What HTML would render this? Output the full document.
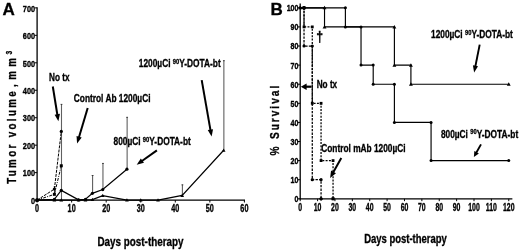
<!DOCTYPE html>
<html><head><meta charset="utf-8"><title>Figure</title>
<style>
html,body{margin:0;padding:0;background:#fff;}
svg{display:block;font-family:"Liberation Sans", "DejaVu Sans", sans-serif;font-weight:bold;fill:#000;}
text{stroke:#000;stroke-width:0.32px;}
text.tk{stroke-width:0.35px;}
</style></head><body>
<svg width="520" height="252" viewBox="0 0 520 252">
<rect width="520" height="252" fill="#fff"/>
<text transform="translate(2.40,14.60) scale(1,1)" font-size="17" text-anchor="start">A</text>
<line x1="37.10" y1="7.28" x2="37.10" y2="200.70" stroke="#000" stroke-width="1.3" stroke-linecap="butt"/>
<line x1="36.50" y1="200.10" x2="245.00" y2="200.10" stroke="#000" stroke-width="1.3" stroke-linecap="butt"/>
<line x1="34.50" y1="200.10" x2="37.10" y2="200.10" stroke="#000" stroke-width="1.0" stroke-linecap="butt"/>
<text transform="translate(35.10,203.80) scale(0.75,1)" font-size="9.8" text-anchor="end" class="tk">0</text>
<line x1="34.50" y1="172.64" x2="37.10" y2="172.64" stroke="#000" stroke-width="1.0" stroke-linecap="butt"/>
<text transform="translate(35.10,176.34) scale(0.75,1)" font-size="9.8" text-anchor="end" class="tk">100</text>
<line x1="34.50" y1="145.18" x2="37.10" y2="145.18" stroke="#000" stroke-width="1.0" stroke-linecap="butt"/>
<text transform="translate(35.10,148.88) scale(0.75,1)" font-size="9.8" text-anchor="end" class="tk">200</text>
<line x1="34.50" y1="117.72" x2="37.10" y2="117.72" stroke="#000" stroke-width="1.0" stroke-linecap="butt"/>
<text transform="translate(35.10,121.42) scale(0.75,1)" font-size="9.8" text-anchor="end" class="tk">300</text>
<line x1="34.50" y1="90.26" x2="37.10" y2="90.26" stroke="#000" stroke-width="1.0" stroke-linecap="butt"/>
<text transform="translate(35.10,93.96) scale(0.75,1)" font-size="9.8" text-anchor="end" class="tk">400</text>
<line x1="34.50" y1="62.80" x2="37.10" y2="62.80" stroke="#000" stroke-width="1.0" stroke-linecap="butt"/>
<text transform="translate(35.10,66.50) scale(0.75,1)" font-size="9.8" text-anchor="end" class="tk">500</text>
<line x1="34.50" y1="35.34" x2="37.10" y2="35.34" stroke="#000" stroke-width="1.0" stroke-linecap="butt"/>
<text transform="translate(35.10,39.04) scale(0.75,1)" font-size="9.8" text-anchor="end" class="tk">600</text>
<line x1="34.50" y1="7.88" x2="37.10" y2="7.88" stroke="#000" stroke-width="1.0" stroke-linecap="butt"/>
<text transform="translate(35.10,11.58) scale(0.75,1)" font-size="9.8" text-anchor="end" class="tk">700</text>
<line x1="37.10" y1="200.10" x2="37.10" y2="202.50" stroke="#000" stroke-width="1.0" stroke-linecap="butt"/>
<text transform="translate(37.10,212.00) scale(0.69,1)" font-size="10.5" text-anchor="middle" class="tk">0</text>
<line x1="71.65" y1="200.10" x2="71.65" y2="202.50" stroke="#000" stroke-width="1.0" stroke-linecap="butt"/>
<text transform="translate(71.65,212.00) scale(0.69,1)" font-size="10.5" text-anchor="middle" class="tk">10</text>
<line x1="106.20" y1="200.10" x2="106.20" y2="202.50" stroke="#000" stroke-width="1.0" stroke-linecap="butt"/>
<text transform="translate(106.20,212.00) scale(0.69,1)" font-size="10.5" text-anchor="middle" class="tk">20</text>
<line x1="140.75" y1="200.10" x2="140.75" y2="202.50" stroke="#000" stroke-width="1.0" stroke-linecap="butt"/>
<text transform="translate(140.75,212.00) scale(0.69,1)" font-size="10.5" text-anchor="middle" class="tk">30</text>
<line x1="175.30" y1="200.10" x2="175.30" y2="202.50" stroke="#000" stroke-width="1.0" stroke-linecap="butt"/>
<text transform="translate(175.30,212.00) scale(0.69,1)" font-size="10.5" text-anchor="middle" class="tk">40</text>
<line x1="209.85" y1="200.10" x2="209.85" y2="202.50" stroke="#000" stroke-width="1.0" stroke-linecap="butt"/>
<text transform="translate(209.85,212.00) scale(0.69,1)" font-size="10.5" text-anchor="middle" class="tk">50</text>
<line x1="244.40" y1="200.10" x2="244.40" y2="202.50" stroke="#000" stroke-width="1.0" stroke-linecap="butt"/>
<text transform="translate(244.40,212.00) scale(0.69,1)" font-size="10.5" text-anchor="middle" class="tk">60</text>
<text transform="translate(140.50,246.30) scale(0.79,1)" font-size="12.5" text-anchor="middle">Days post-therapy</text>
<text transform="translate(16.30,183.80) rotate(-90) scale(0.78,1)" font-size="12.5" text-anchor="start" letter-spacing="3.05">Tumor volume<tspan dx="2.4">,</tspan> <tspan dx="-3.63">m</tspan><tspan dx="2.6">m</tspan><tspan dx="1.3" dy="-4.2" font-size="8.5">3</tspan></text>
<line x1="61.49" y1="200.10" x2="61.49" y2="103.99" stroke="#606060" stroke-width="1.1" stroke-linecap="butt"/>
<line x1="60.59" y1="104.39" x2="62.39" y2="104.39" stroke="#333" stroke-width="0.9" stroke-linecap="butt"/>
<line x1="54.58" y1="194.61" x2="54.58" y2="186.37" stroke="#606060" stroke-width="1.1" stroke-linecap="butt"/>
<line x1="53.68" y1="186.77" x2="55.48" y2="186.77" stroke="#333" stroke-width="0.9" stroke-linecap="butt"/>
<line x1="92.58" y1="193.78" x2="92.58" y2="175.11" stroke="#606060" stroke-width="1.1" stroke-linecap="butt"/>
<line x1="91.68" y1="175.51" x2="93.48" y2="175.51" stroke="#333" stroke-width="0.9" stroke-linecap="butt"/>
<line x1="102.95" y1="189.12" x2="102.95" y2="163.03" stroke="#606060" stroke-width="1.1" stroke-linecap="butt"/>
<line x1="102.05" y1="163.43" x2="103.85" y2="163.43" stroke="#333" stroke-width="0.9" stroke-linecap="butt"/>
<line x1="127.13" y1="169.34" x2="127.13" y2="116.90" stroke="#606060" stroke-width="1.1" stroke-linecap="butt"/>
<line x1="126.23" y1="117.30" x2="128.03" y2="117.30" stroke="#333" stroke-width="0.9" stroke-linecap="butt"/>
<line x1="182.41" y1="195.43" x2="182.41" y2="184.45" stroke="#606060" stroke-width="1.1" stroke-linecap="butt"/>
<line x1="181.51" y1="184.85" x2="183.31" y2="184.85" stroke="#333" stroke-width="0.9" stroke-linecap="butt"/>
<line x1="223.87" y1="150.40" x2="223.87" y2="60.33" stroke="#606060" stroke-width="1.1" stroke-linecap="butt"/>
<line x1="222.97" y1="60.73" x2="224.77" y2="60.73" stroke="#333" stroke-width="0.9" stroke-linecap="butt"/>
<polyline points="37.10,200.10 54.38,189.12 61.29,131.45" fill="none" stroke="#000" stroke-width="1.0" stroke-dasharray="3,1.1" stroke-linejoin="miter"/>
<polyline points="37.10,200.10 54.38,194.33 61.29,165.77" fill="none" stroke="#000" stroke-width="1.0" stroke-dasharray="3,1.2,1,1.2" stroke-linejoin="miter"/>
<polyline points="37.10,200.10 54.38,199.28 61.29,190.35 78.56,199.83 85.47,199.28 92.38,193.37 102.75,189.53 126.93,169.21" fill="none" stroke="#000" stroke-width="1.2" stroke-linejoin="miter"/>
<polyline points="37.10,200.10 54.38,200.10 61.29,200.10 78.56,200.10 85.47,200.10 92.38,199.55 102.75,195.57 126.93,200.10 140.75,200.10 158.03,200.10 182.21,195.43 223.67,150.26" fill="none" stroke="#000" stroke-width="1.2" stroke-linejoin="miter"/>
<circle cx="37.10" cy="200.10" r="1.6" fill="#000"/>
<circle cx="54.38" cy="189.12" r="1.6" fill="#000"/>
<circle cx="61.29" cy="131.45" r="1.6" fill="#000"/>
<rect x="35.60" y="198.60" width="3.0" height="3.0" fill="#000"/>
<rect x="52.88" y="192.83" width="3.0" height="3.0" fill="#000"/>
<rect x="59.79" y="164.27" width="3.0" height="3.0" fill="#000"/>
<circle cx="37.10" cy="200.10" r="1.6" fill="#000"/>
<circle cx="54.38" cy="199.28" r="1.6" fill="#000"/>
<circle cx="61.29" cy="190.35" r="1.6" fill="#000"/>
<circle cx="78.56" cy="199.83" r="1.6" fill="#000"/>
<circle cx="85.47" cy="199.28" r="1.6" fill="#000"/>
<circle cx="92.38" cy="193.37" r="1.6" fill="#000"/>
<circle cx="102.75" cy="189.53" r="1.6" fill="#000"/>
<circle cx="126.93" cy="169.21" r="1.6" fill="#000"/>
<polygon points="37.10,198.25 35.25,201.58 38.95,201.58" fill="#000"/>
<polygon points="54.38,198.25 52.52,201.58 56.23,201.58" fill="#000"/>
<polygon points="61.29,198.25 59.44,201.58 63.14,201.58" fill="#000"/>
<polygon points="78.56,198.25 76.71,201.58 80.41,201.58" fill="#000"/>
<polygon points="85.47,198.25 83.62,201.58 87.32,201.58" fill="#000"/>
<polygon points="92.38,197.70 90.53,201.03 94.23,201.03" fill="#000"/>
<polygon points="102.75,193.72 100.90,197.05 104.59,197.05" fill="#000"/>
<polygon points="126.93,198.25 125.08,201.58 128.78,201.58" fill="#000"/>
<polygon points="140.75,198.25 138.90,201.58 142.60,201.58" fill="#000"/>
<polygon points="158.03,198.25 156.18,201.58 159.88,201.58" fill="#000"/>
<polygon points="182.21,193.58 180.36,196.91 184.06,196.91" fill="#000"/>
<polygon points="223.67,148.41 221.82,151.74 225.52,151.74" fill="#000"/>
<text transform="translate(49.00,81.10) scale(0.78,1)" font-size="10.5" text-anchor="start">No tx</text>
<text transform="translate(73.80,102.40) scale(0.78,1)" font-size="10.7" text-anchor="start">Control Ab 1200µCi</text>
<text transform="translate(113.50,145.00) scale(0.78,1)" font-size="10.7" text-anchor="start">800µCi <tspan dy="-3.4" font-size="7.4">90</tspan><tspan dy="3.4">Y-DOTA-bt</tspan></text>
<text transform="translate(138.80,66.90) scale(0.78,1)" font-size="10.7" text-anchor="start">1200µCi <tspan dy="-3.4" font-size="7.4">90</tspan><tspan dy="3.4">Y-DOTA-bt</tspan></text>
<line x1="52.80" y1="86.50" x2="57.44" y2="115.28" stroke="#000" stroke-width="2.0" stroke-linecap="butt"/>
<polygon points="58.40,121.20 54.62,114.72 59.95,113.86" fill="#000"/>
<line x1="87.70" y1="108.00" x2="78.82" y2="137.75" stroke="#000" stroke-width="2.0" stroke-linecap="butt"/>
<polygon points="77.10,143.50 76.52,136.02 81.69,137.57" fill="#000"/>
<line x1="156.90" y1="150.40" x2="141.60" y2="161.23" stroke="#000" stroke-width="2.0" stroke-linecap="butt"/>
<polygon points="136.70,164.70 140.85,158.45 143.97,162.86" fill="#000"/>
<line x1="201.70" y1="80.20" x2="210.56" y2="130.59" stroke="#000" stroke-width="2.0" stroke-linecap="butt"/>
<polygon points="211.60,136.50 207.73,130.07 213.05,129.14" fill="#000"/>
<text transform="translate(270.60,14.80) scale(1,1)" font-size="17" text-anchor="start">B</text>
<line x1="300.20" y1="3.60" x2="300.20" y2="199.40" stroke="#000" stroke-width="1.3" stroke-linecap="butt"/>
<line x1="299.60" y1="198.80" x2="512.36" y2="198.80" stroke="#000" stroke-width="1.3" stroke-linecap="butt"/>
<line x1="297.60" y1="198.80" x2="300.20" y2="198.80" stroke="#000" stroke-width="1.0" stroke-linecap="butt"/>
<text transform="translate(298.50,202.20) scale(0.74,1)" font-size="9.6" text-anchor="end" class="tk">0</text>
<line x1="297.60" y1="179.70" x2="300.20" y2="179.70" stroke="#000" stroke-width="1.0" stroke-linecap="butt"/>
<text transform="translate(298.50,183.10) scale(0.74,1)" font-size="9.6" text-anchor="end" class="tk">10</text>
<line x1="297.60" y1="160.60" x2="300.20" y2="160.60" stroke="#000" stroke-width="1.0" stroke-linecap="butt"/>
<text transform="translate(298.50,164.00) scale(0.74,1)" font-size="9.6" text-anchor="end" class="tk">20</text>
<line x1="297.60" y1="141.50" x2="300.20" y2="141.50" stroke="#000" stroke-width="1.0" stroke-linecap="butt"/>
<text transform="translate(298.50,144.90) scale(0.74,1)" font-size="9.6" text-anchor="end" class="tk">30</text>
<line x1="297.60" y1="122.40" x2="300.20" y2="122.40" stroke="#000" stroke-width="1.0" stroke-linecap="butt"/>
<text transform="translate(298.50,125.80) scale(0.74,1)" font-size="9.6" text-anchor="end" class="tk">40</text>
<line x1="297.60" y1="103.30" x2="300.20" y2="103.30" stroke="#000" stroke-width="1.0" stroke-linecap="butt"/>
<text transform="translate(298.50,106.70) scale(0.74,1)" font-size="9.6" text-anchor="end" class="tk">50</text>
<line x1="297.60" y1="84.20" x2="300.20" y2="84.20" stroke="#000" stroke-width="1.0" stroke-linecap="butt"/>
<text transform="translate(298.50,87.60) scale(0.74,1)" font-size="9.6" text-anchor="end" class="tk">60</text>
<line x1="297.60" y1="65.10" x2="300.20" y2="65.10" stroke="#000" stroke-width="1.0" stroke-linecap="butt"/>
<text transform="translate(298.50,68.50) scale(0.74,1)" font-size="9.6" text-anchor="end" class="tk">70</text>
<line x1="297.60" y1="46.00" x2="300.20" y2="46.00" stroke="#000" stroke-width="1.0" stroke-linecap="butt"/>
<text transform="translate(298.50,49.40) scale(0.74,1)" font-size="9.6" text-anchor="end" class="tk">80</text>
<line x1="297.60" y1="26.90" x2="300.20" y2="26.90" stroke="#000" stroke-width="1.0" stroke-linecap="butt"/>
<text transform="translate(298.50,30.30) scale(0.74,1)" font-size="9.6" text-anchor="end" class="tk">90</text>
<line x1="297.60" y1="7.80" x2="300.20" y2="7.80" stroke="#000" stroke-width="1.0" stroke-linecap="butt"/>
<text transform="translate(298.50,11.20) scale(0.74,1)" font-size="9.6" text-anchor="end" class="tk">100</text>
<line x1="300.20" y1="198.80" x2="300.20" y2="201.20" stroke="#000" stroke-width="1.0" stroke-linecap="butt"/>
<text transform="translate(300.20,210.90) scale(0.66,1)" font-size="10.5" text-anchor="middle" class="tk">0</text>
<line x1="317.58" y1="198.80" x2="317.58" y2="201.20" stroke="#000" stroke-width="1.0" stroke-linecap="butt"/>
<text transform="translate(317.58,210.90) scale(0.66,1)" font-size="10.5" text-anchor="middle" class="tk">10</text>
<line x1="334.96" y1="198.80" x2="334.96" y2="201.20" stroke="#000" stroke-width="1.0" stroke-linecap="butt"/>
<text transform="translate(334.96,210.90) scale(0.66,1)" font-size="10.5" text-anchor="middle" class="tk">20</text>
<line x1="352.34" y1="198.80" x2="352.34" y2="201.20" stroke="#000" stroke-width="1.0" stroke-linecap="butt"/>
<text transform="translate(352.34,210.90) scale(0.66,1)" font-size="10.5" text-anchor="middle" class="tk">30</text>
<line x1="369.72" y1="198.80" x2="369.72" y2="201.20" stroke="#000" stroke-width="1.0" stroke-linecap="butt"/>
<text transform="translate(369.72,210.90) scale(0.66,1)" font-size="10.5" text-anchor="middle" class="tk">40</text>
<line x1="387.10" y1="198.80" x2="387.10" y2="201.20" stroke="#000" stroke-width="1.0" stroke-linecap="butt"/>
<text transform="translate(387.10,210.90) scale(0.66,1)" font-size="10.5" text-anchor="middle" class="tk">50</text>
<line x1="404.48" y1="198.80" x2="404.48" y2="201.20" stroke="#000" stroke-width="1.0" stroke-linecap="butt"/>
<text transform="translate(404.48,210.90) scale(0.66,1)" font-size="10.5" text-anchor="middle" class="tk">60</text>
<line x1="421.86" y1="198.80" x2="421.86" y2="201.20" stroke="#000" stroke-width="1.0" stroke-linecap="butt"/>
<text transform="translate(421.86,210.90) scale(0.66,1)" font-size="10.5" text-anchor="middle" class="tk">70</text>
<line x1="439.24" y1="198.80" x2="439.24" y2="201.20" stroke="#000" stroke-width="1.0" stroke-linecap="butt"/>
<text transform="translate(439.24,210.90) scale(0.66,1)" font-size="10.5" text-anchor="middle" class="tk">80</text>
<line x1="456.62" y1="198.80" x2="456.62" y2="201.20" stroke="#000" stroke-width="1.0" stroke-linecap="butt"/>
<text transform="translate(456.62,210.90) scale(0.66,1)" font-size="10.5" text-anchor="middle" class="tk">90</text>
<line x1="474.00" y1="198.80" x2="474.00" y2="201.20" stroke="#000" stroke-width="1.0" stroke-linecap="butt"/>
<text transform="translate(474.00,210.90) scale(0.66,1)" font-size="10.5" text-anchor="middle" class="tk">100</text>
<line x1="491.38" y1="198.80" x2="491.38" y2="201.20" stroke="#000" stroke-width="1.0" stroke-linecap="butt"/>
<text transform="translate(491.38,210.90) scale(0.66,1)" font-size="10.5" text-anchor="middle" class="tk">110</text>
<line x1="508.76" y1="198.80" x2="508.76" y2="201.20" stroke="#000" stroke-width="1.0" stroke-linecap="butt"/>
<text transform="translate(508.76,210.90) scale(0.66,1)" font-size="10.5" text-anchor="middle" class="tk">120</text>
<text transform="translate(405.50,243.10) scale(0.772,1)" font-size="12.3" text-anchor="middle">Days post-therapy</text>
<text transform="translate(278.70,155.60) rotate(-90) scale(0.78,1)" font-size="13" text-anchor="start" letter-spacing="2.55">% <tspan dx="0.9">S</tspan>urvival</text>
<polyline points="300.20,7.80 324.53,7.80 324.53,26.90 394.40,26.90 394.40,65.10 410.91,65.10 410.91,84.20 508.76,84.20" fill="none" stroke="#000" stroke-width="1.15" stroke-linejoin="miter"/>
<polygon points="300.20,5.85 298.25,9.36 302.15,9.36" fill="#000"/>
<polygon points="324.53,5.85 322.58,9.36 326.48,9.36" fill="#000"/>
<polygon points="324.53,24.95 322.58,28.46 326.48,28.46" fill="#000"/>
<polygon points="394.40,24.95 392.45,28.46 396.35,28.46" fill="#000"/>
<polygon points="394.40,63.15 392.45,66.66 396.35,66.66" fill="#000"/>
<polygon points="410.91,63.15 408.96,66.66 412.86,66.66" fill="#000"/>
<polygon points="410.91,82.25 408.96,85.76 412.86,85.76" fill="#000"/>
<polygon points="508.76,82.25 506.81,85.76 510.71,85.76" fill="#000"/>
<polyline points="300.20,7.80 345.39,7.80 345.39,26.90 361.03,26.90 361.03,65.10 373.20,65.10 373.20,84.20 394.40,84.20 394.40,122.40 431.07,122.40 431.07,160.60 508.76,160.60" fill="none" stroke="#000" stroke-width="1.15" stroke-linejoin="miter"/>
<circle cx="300.20" cy="7.80" r="1.5" fill="#000"/>
<circle cx="345.39" cy="7.80" r="1.5" fill="#000"/>
<circle cx="345.39" cy="26.90" r="1.5" fill="#000"/>
<circle cx="361.03" cy="26.90" r="1.5" fill="#000"/>
<circle cx="361.03" cy="65.10" r="1.5" fill="#000"/>
<circle cx="373.20" cy="65.10" r="1.5" fill="#000"/>
<circle cx="373.20" cy="84.20" r="1.5" fill="#000"/>
<circle cx="394.40" cy="84.20" r="1.5" fill="#000"/>
<circle cx="394.40" cy="122.40" r="1.5" fill="#000"/>
<circle cx="431.07" cy="122.40" r="1.5" fill="#000"/>
<circle cx="431.07" cy="160.60" r="1.5" fill="#000"/>
<circle cx="508.76" cy="160.60" r="1.5" fill="#000"/>
<polyline points="300.20,7.80 304.02,7.80 304.02,26.90 312.28,26.90 312.28,103.30 321.06,103.30 321.06,160.60 333.05,160.60 333.05,198.80 333.05,198.80" fill="none" stroke="#000" stroke-width="1.25" stroke-dasharray="2,1.3" stroke-linejoin="miter"/>
<polyline points="300.20,7.80 304.02,7.80 304.02,46.00 312.28,46.00 312.28,179.70 321.06,179.70 321.06,198.80 321.06,198.80" fill="none" stroke="#000" stroke-width="1.25" stroke-dasharray="2.4,1.2" stroke-linejoin="miter"/>
<rect x="302.62" y="6.40" width="2.8" height="2.8" fill="#000"/>
<rect x="302.62" y="25.50" width="2.8" height="2.8" fill="#000"/>
<rect x="310.88" y="25.50" width="2.8" height="2.8" fill="#000"/>
<rect x="310.88" y="101.90" width="2.8" height="2.8" fill="#000"/>
<rect x="319.66" y="101.90" width="2.8" height="2.8" fill="#000"/>
<rect x="319.66" y="159.20" width="2.8" height="2.8" fill="#000"/>
<rect x="331.65" y="159.20" width="2.8" height="2.8" fill="#000"/>
<rect x="331.65" y="197.40" width="2.8" height="2.8" fill="#000"/>
<rect x="331.65" y="197.40" width="2.8" height="2.8" fill="#000"/>
<circle cx="304.02" cy="7.80" r="1.6" fill="#000"/>
<circle cx="304.02" cy="46.00" r="1.6" fill="#000"/>
<circle cx="312.28" cy="46.00" r="1.6" fill="#000"/>
<circle cx="312.28" cy="179.70" r="1.6" fill="#000"/>
<circle cx="321.06" cy="179.70" r="1.6" fill="#000"/>
<circle cx="321.06" cy="198.80" r="1.6" fill="#000"/>
<circle cx="321.06" cy="198.80" r="1.6" fill="#000"/>
<circle cx="304.02" cy="7.80" r="1.9" fill="#000"/>
<text transform="translate(319.60,42.00) scale(0.85,1)" font-size="14.5" text-anchor="middle">†</text>
<text transform="translate(316.70,88.40) scale(0.78,1)" font-size="10.5" text-anchor="start">No tx</text>
<text transform="translate(321.20,151.80) scale(0.78,1)" font-size="10.7" text-anchor="start">Control mAb 1200µCi</text>
<text transform="translate(431.00,38.20) scale(0.78,1)" font-size="10.7" text-anchor="start">1200µCi <tspan dy="-3.4" font-size="7.4">90</tspan><tspan dy="3.4">Y-DOTA-bt</tspan></text>
<text transform="translate(440.90,137.80) scale(0.78,1)" font-size="10.7" text-anchor="start">800µCi <tspan dy="-3.4" font-size="7.4">90</tspan><tspan dy="3.4">Y-DOTA-bt</tspan></text>
<line x1="311.50" y1="86.70" x2="305.60" y2="86.70" stroke="#000" stroke-width="2.2" stroke-linecap="butt"/>
<polygon points="300.80,86.70 306.60,83.50 306.60,89.90" fill="#000"/>
<line x1="341.30" y1="158.00" x2="333.03" y2="172.76" stroke="#000" stroke-width="2.0" stroke-linecap="butt"/>
<polygon points="330.10,178.00 331.08,170.52 335.96,173.26" fill="#000"/>
<line x1="479.70" y1="44.60" x2="475.28" y2="66.72" stroke="#000" stroke-width="1.9" stroke-linecap="butt"/>
<polygon points="474.10,72.60 472.92,65.23 478.02,66.25" fill="#000"/>
<line x1="481.00" y1="144.40" x2="476.11" y2="153.08" stroke="#000" stroke-width="1.9" stroke-linecap="butt"/>
<polygon points="473.90,157.00 474.33,150.93 478.87,153.48" fill="#000"/>
</svg>
</body></html>
